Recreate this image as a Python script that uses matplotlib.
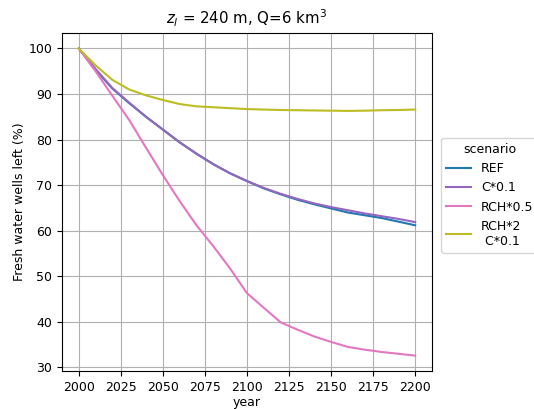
import matplotlib
matplotlib.use("Agg")
from matplotlib import pyplot as plt

years = [2000, 2010, 2020, 2030, 2040, 2050, 2060, 2070, 2080, 2090, 2100,
         2110, 2120, 2130, 2140, 2150, 2160, 2170, 2180, 2190, 2200]

ref = [100, 95.3, 91.2, 88.0, 85.0, 82.2, 79.4, 76.9, 74.6, 72.6, 70.9,
       69.3, 68.0, 66.8, 65.8, 64.9, 64.0, 63.4, 62.8, 62.0, 61.2]
c01 = [100, 95.5, 91.3, 88.1, 85.0, 82.2, 79.4, 76.9, 74.6, 72.6, 70.9,
       69.4, 68.1, 67.0, 66.0, 65.2, 64.5, 63.8, 63.2, 62.6, 61.9]
rch05 = [100, 95.0, 89.6, 84.3, 78.2, 72.2, 66.5, 61.2, 56.6, 51.7, 46.3,
         43.1, 39.9, 38.3, 36.8, 35.6, 34.5, 33.9, 33.4, 33.0, 32.6]
rch2_c01 = [100, 96.3, 93.1, 91.0, 89.7, 88.7, 87.8, 87.3, 87.1, 86.9, 86.7,
            86.6, 86.5, 86.45, 86.4, 86.35, 86.3, 86.35, 86.45, 86.5, 86.6]

series = [
    ("REF", ref, "tab:blue"),
    ("C*0.1", c01, "tab:purple"),
    ("RCH*0.5", rch05, "tab:pink"),
    ("RCH*2\n C*0.1", rch2_c01, "tab:olive"),
]

plt.rcParams['font.size'] = 9

fig = plt.figure(figsize=(5.34, 4.09), dpi=100)
ax = fig.add_axes([0.116, 0.093, 0.693, 0.826])

for name, vals, col in series:
    ax.plot(years, vals, color=col, label=name, lw=1.5)

ax.set_xticks([2000, 2025, 2050, 2075, 2100, 2125, 2150, 2175, 2200])
ax.set_yticks([30, 40, 50, 60, 70, 80, 90, 100])
ax.grid(True)
ax.set_xlabel("year", labelpad=1.5)
ax.set_ylabel("Fresh water wells left (%)", labelpad=2)
ax.set_title(r"$z_l$ = 240 m, Q=6 km$^3$")
ax.legend(title="scenario", loc="center left", bbox_to_anchor=(1.008, 0.52))

fig.savefig("out.png", dpi=100)
